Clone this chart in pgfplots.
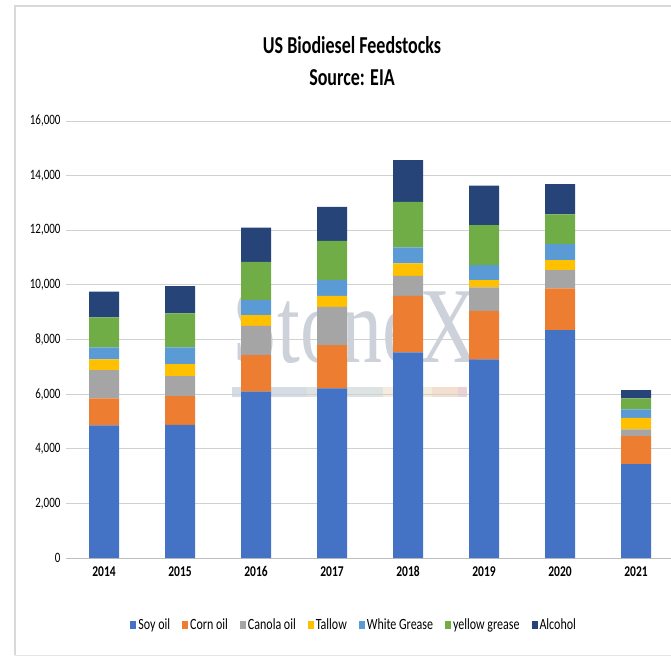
\documentclass[border=0pt]{standalone}
\usepackage{pgfplots}
\pgfplotsset{compat=1.18}
\usepackage{fontspec}
\setmainfont{Carlito}
\newfontfamily\wmfont{Liberation Serif}
\definecolor{cSoy}{HTML}{4472C4}
\definecolor{cCorn}{HTML}{ED7D31}
\definecolor{cCanola}{HTML}{A5A5A5}
\definecolor{cTallow}{HTML}{FFC000}
\definecolor{cWhite}{HTML}{5B9BD5}
\definecolor{cYellow}{HTML}{70AD47}
\definecolor{cAlcohol}{HTML}{264478}
\definecolor{wm}{HTML}{CDD2DA}
\definecolor{wA}{HTML}{D5DCE4}
\definecolor{wB}{HTML}{DDE3E2}
\definecolor{wC}{HTML}{F4ECDC}
\definecolor{wD}{HTML}{F2DFCF}
\definecolor{wE}{HTML}{EBD2D6}
\newcommand{\vs}[1]{\scalebox{1}[1.3]{#1}}
\newcommand{\xl}[1]{\scalebox{1}[1.3]{\bfseries #1}}
\begin{document}
\begin{tikzpicture}[x=1pt,y=1pt]
\useasboundingbox (0,0) rectangle (671,657);
\draw[black!15, line width=1.2pt] (15,2) -- (15,651) -- (680,651);
\draw[black!10, line width=1pt] (15,2) -- (680,2);
\node[font=\fontsize{18}{20}\selectfont\bfseries] at (352,612) {\scalebox{1}[1.35]{US Biodiesel Feedstocks}};
\node[font=\fontsize{18}{20}\selectfont\bfseries] at (352,579) {\scalebox{1}[1.35]{Source: EIA}};
% watermark
\node[anchor=base west, inner sep=0pt, text=wm, font=\wmfont\fontsize{108}{110}\selectfont] at (232,295) {\scalebox{0.76}[1]{StoneX}};
\fill[wA] (232,260) rectangle (307,270);
\fill[wB] (307,260) rectangle (383,270);
\fill[wC] (383,260) rectangle (432,270);
\fill[wD] (432,260) rectangle (458,270);
\fill[wE] (458,260) rectangle (467,270);
\begin{axis}[
  at={(66pt,99pt)}, anchor=south west,
  scale only axis, width=608pt, height=437pt,
  ybar stacked, bar width=30pt,
  xmin=-0.5, xmax=7.5, ymin=0, ymax=16000,
  xtick={0,...,7},
  xticklabels={\xl{2014},\xl{2015},\xl{2016},\xl{2017},\xl{2018},\xl{2019},\xl{2020},\xl{2021}},
  ytick={0,2000,...,16000},
  yticklabel={\vs{\pgfmathprintnumber[1000 sep={,}]{\tick}}},
  /pgf/number format/assume math mode=true,
  scaled y ticks=false,
  xticklabel style={font=\fontsize{11.5}{14}\selectfont, yshift=-5pt},
  yticklabel style={font=\fontsize{11}{14}\selectfont, xshift=-2pt},
  axis line style={draw=none},
  axis x line*=bottom,
  x axis line style={draw=black!25, line width=0.8pt},
  tick style={draw=none},
  ymajorgrids, grid style={black!18, line width=0.8pt},
  legend style={at={(0.474,-0.153)}, anchor=center, draw=none, fill=none,
    font=\fontsize{12}{14}\selectfont, legend columns=7,
    /tikz/every even column/.append style={column sep=10pt}},
  legend image code/.code={\fill[#1] (0pt,-4pt) rectangle (6pt,4pt);},
  clip=false,
]
\addplot[fill=cSoy, draw=none] coordinates {(0,4860) (1,4870) (2,6090) (3,6210) (4,7530) (5,7270) (6,8345) (7,3440)};
\addplot[fill=cCorn, draw=none] coordinates {(0,985) (1,1060) (2,1340) (3,1585) (4,2070) (5,1780) (6,1525) (7,1025)};
\addplot[fill=cCanola, draw=none] coordinates {(0,1035) (1,730) (2,1070) (3,1400) (4,730) (5,855) (6,670) (7,245)};
\addplot[fill=cTallow, draw=none] coordinates {(0,390) (1,440) (2,390) (3,400) (4,455) (5,270) (6,365) (7,425)};
\addplot[fill=cWhite, draw=none] coordinates {(0,440) (1,610) (2,550) (3,575) (4,585) (5,550) (6,585) (7,305)};
\addplot[fill=cYellow, draw=none] coordinates {(0,1100) (1,1245) (2,1400) (3,1440) (4,1670) (5,1465) (6,1090) (7,400)};
\addplot[fill=cAlcohol, draw=none] coordinates {(0,940) (1,1000) (2,1260) (3,1245) (4,1525) (5,1440) (6,1110) (7,305)};
\legend{\vs{Soy oil}, \vs{Corn oil}, \vs{Canola oil}, \vs{Tallow}, \vs{White Grease}, \vs{yellow grease}, \vs{Alcohol}}
\end{axis}
\end{tikzpicture}
\end{document}
